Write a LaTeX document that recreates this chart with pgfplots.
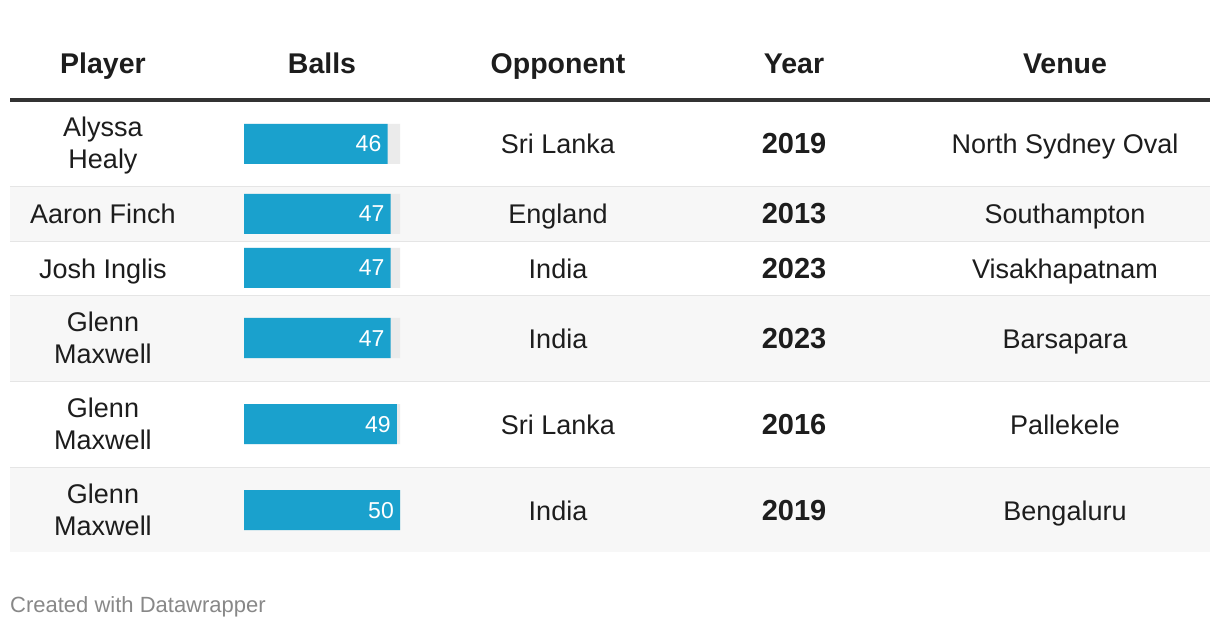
\documentclass[border=0pt]{standalone}
\usepackage{pgfplots}
\pgfplotsset{compat=1.18}
\usepackage{fontspec}
\setmainfont{Liberation Sans}
\definecolor{barblue}{HTML}{1AA1CD}
\definecolor{bargrey}{HTML}{EBEBEB}
\definecolor{stripe}{HTML}{F7F7F7}
\definecolor{sepline}{HTML}{E5E5E5}
\definecolor{rule}{HTML}{333333}
\definecolor{txt}{HTML}{1D1D1D}
\definecolor{foot}{HTML}{888888}
\begin{document}
\begin{tikzpicture}[x=1pt,y=1pt]
\begin{axis}[name=main, at={(0,0)}, anchor=south west,
  width=1220pt, height=628pt, scale only axis,
  xmin=0, xmax=1220, ymin=0, ymax=628, y dir=reverse,
  hide axis, clip=false]
  \fill[white] (axis cs:0,0) rectangle (axis cs:1220,628);
  % stripes
  \fill[stripe] (axis cs:10,187) rectangle (axis cs:1210,241);
  \fill[stripe] (axis cs:10,296) rectangle (axis cs:1210,381);
  \fill[stripe] (axis cs:10,468) rectangle (axis cs:1210,552);
  % separators
  \draw[sepline, line width=1.8pt] (axis cs:10,186.5) -- (axis cs:1210,186.5);
  \draw[sepline, line width=1.8pt] (axis cs:10,241.5) -- (axis cs:1210,241.5);
  \draw[sepline, line width=1.8pt] (axis cs:10,295.5) -- (axis cs:1210,295.5);
  \draw[sepline, line width=1.8pt] (axis cs:10,381.5) -- (axis cs:1210,381.5);
  \draw[sepline, line width=1.8pt] (axis cs:10,467.5) -- (axis cs:1210,467.5);
  % header rule
  \draw[rule, line width=3.6pt] (axis cs:10,100) -- (axis cs:1210,100);
  % header
  \begin{scope}[every node/.style={text=txt, font=\fontsize{28.5}{32}\selectfont\bfseries, anchor=base, inner sep=0pt}]
    \node at (axis cs:103,74) {Player};
    \node at (axis cs:322,74) {Balls};
    \node at (axis cs:558,74) {Opponent};
    \node at (axis cs:794,74) {Year};
    \node at (axis cs:1065,74) {Venue};
  \end{scope}
  \begin{scope}[every node/.style={text=txt, font=\fontsize{27}{31}\selectfont, anchor=base, inner sep=0pt}]
    % player
    \node at (axis cs:103,137) {Alyssa};
    \node at (axis cs:103,169) {Healy};
    \node at (axis cs:103,224) {Aaron Finch};
    \node at (axis cs:103,278) {Josh Inglis};
    \node at (axis cs:103,331) {Glenn};
    \node at (axis cs:103,363) {Maxwell};
    \node at (axis cs:103,417) {Glenn};
    \node at (axis cs:103,449) {Maxwell};
    \node at (axis cs:103,503) {Glenn};
    \node at (axis cs:103,535) {Maxwell};
    % opponent
    \node at (axis cs:558,154) {Sri Lanka};
    \node at (axis cs:558,224) {England};
    \node at (axis cs:558,278) {India};
    \node at (axis cs:558,348) {India};
    \node at (axis cs:558,434) {Sri Lanka};
    \node at (axis cs:558,520) {India};
    % year
    \node[font=\fontsize{29}{31}\selectfont\bfseries] at (axis cs:794,154) {2019};
    \node[font=\fontsize{29}{31}\selectfont\bfseries] at (axis cs:794,224) {2013};
    \node[font=\fontsize{29}{31}\selectfont\bfseries] at (axis cs:794,278) {2023};
    \node[font=\fontsize{29}{31}\selectfont\bfseries] at (axis cs:794,348) {2023};
    \node[font=\fontsize{29}{31}\selectfont\bfseries] at (axis cs:794,434) {2016};
    \node[font=\fontsize{29}{31}\selectfont\bfseries] at (axis cs:794,520) {2019};
    % venue
    \node at (axis cs:1065,154) {North Sydney Oval};
    \node at (axis cs:1065,224) {Southampton};
    \node at (axis cs:1065,278) {Visakhapatnam};
    \node at (axis cs:1065,348) {Barsapara};
    \node at (axis cs:1065,434) {Pallekele};
    \node at (axis cs:1065,520) {Bengaluru};
  \end{scope}
  \node[anchor=base west, inner sep=0pt, text=foot, font=\fontsize{22}{25}\selectfont] at (axis cs:10,612) {Created with Datawrapper};
\end{axis}
\begin{axis}[at={(0,0)}, anchor=south west,
  width=1220pt, height=628pt, scale only axis,
  xmin=-78.2051, xmax=312.8205, ymin=0, ymax=628, y dir=reverse,
  hide axis, clip=false]
  \addplot[xbar, bar width=40, bar shift=0pt, fill=bargrey, draw=none]
    coordinates {(50,144) (50,214) (50,268) (50,338) (50,424) (50,510)};
  \addplot[xbar, bar width=40, bar shift=0pt, fill=barblue, draw=none,
    point meta=explicit symbolic, nodes near coords,
    nodes near coords style={anchor=base east, inner sep=0pt, xshift=-6pt, yshift=-8pt, text=white, font=\fontsize{23}{27}\selectfont}]
    coordinates {(46,144) [46] (47,214) [47] (47,268) [47] (47,338) [47] (49,424) [49] (50,510) [50]};
\end{axis}
\end{tikzpicture}
\end{document}
